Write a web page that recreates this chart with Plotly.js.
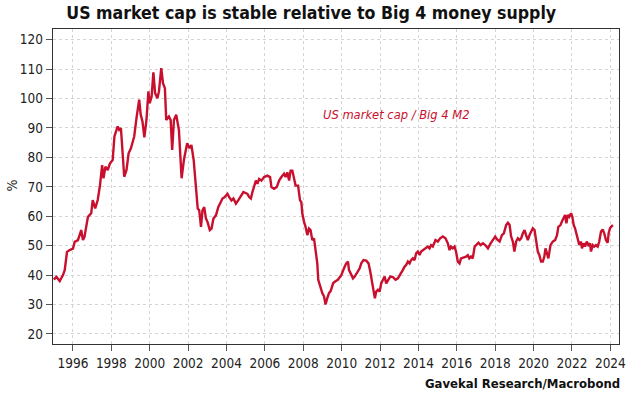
<!DOCTYPE html>
<html>
<head>
<meta charset="utf-8">
<script src="https://cdn.plot.ly/plotly-3.0.1.min.js"></script>
<style>html,body{margin:0;padding:0;background:#fff;}#chart{width:630px;height:397px;}</style>
</head>
<body>
<div id="chart"></div>
<script>
// Decimal year of each observation
const years = [
1995.0,1995.14,1995.31,1995.48,1995.57,1995.69,1995.83,1996.0,1996.09,1996.26,1996.43,1996.52,1996.6,1996.78,1996.95,
1997.03,1997.16,1997.29,1997.41,1997.52,1997.59,1997.69,1997.81,1997.93,1998.07,1998.16,1998.33,1998.41,1998.5,1998.59,
1998.67,1998.79,1998.9,1999.02,1999.19,1999.31,1999.45,1999.53,1999.62,1999.72,1999.83,1999.93,2000.0,2000.1,2000.19,
2000.28,2000.4,2000.48,2000.6,2000.69,2000.79,2000.86,2001.0,2001.09,2001.17,2001.26,2001.38,2001.52,2001.66,2001.78,
2001.95,2002.07,2002.17,2002.29,
2002.41,2002.5,2002.58,2002.67,2002.75,2002.84,2002.93,2003.01,2003.13,2003.22,2003.32,2003.45,2003.57,2003.67,2003.79,
2003.91,2004.05,2004.14,2004.26,2004.36,2004.49,2004.61,2004.75,2004.88,2005.0,2005.09,2005.18,2005.27,2005.35,2005.44,
2005.53,2005.61,2005.7,2005.82,2005.96,2006.13,2006.27,2006.34,2006.48,2006.62,2006.74,2006.86,2007.0,2007.08,2007.17,
2007.26,2007.34,2007.43,2007.52,2007.6,2007.73,2007.83,2007.9,2007.95,2008.04,2008.12,2008.21,2008.3,2008.38,2008.47,
2008.56,2008.64,2008.73,2008.78,2008.87,2008.99,2009.08,2009.16,2009.25,2009.34,2009.42,2009.56,2009.68,2009.8,
2009.98,2010.07,2010.16,2010.24,2010.33,2010.38,2010.5,2010.59,2010.68,2010.8,2010.94,2011.02,2011.14,2011.28,2011.4,
2011.49,2011.56,2011.63,2011.68,2011.73,2011.8,2011.89,2011.98,2012.06,2012.15,2012.24,2012.32,2012.41,2012.53,2012.67,
2012.81,2012.93,2013.05,2013.19,2013.28,2013.36,2013.45,2013.54,2013.62,2013.71,2013.8,2013.88,2013.97,2014.06,2014.14,
2014.23,2014.37,2014.49,2014.58,2014.66,2014.75,2014.89,2015.01,2015.13,2015.27,2015.41,2015.53,2015.62,2015.7,2015.79,
2015.88,2015.96,2016.05,2016.14,2016.22,2016.34,2016.48,2016.57,2016.65,2016.74,2016.83,
2016.93,2017.01,2017.13,2017.24,2017.36,2017.48,2017.62,2017.76,2017.88,2018.0,2018.1,2018.23,2018.35,2018.45,2018.57,
2018.66,2018.75,2018.83,2018.92,2019.0,2019.09,2019.18,2019.27,2019.35,2019.44,2019.53,2019.61,2019.7,2019.79,2019.87,
2019.96,2020.05,2020.13,2020.22,2020.3,2020.39,2020.48,2020.56,2020.62,2020.7,2020.77,2020.88,2021.0,2021.12,2021.22,
2021.29,2021.4,2021.47,2021.57,2021.64,2021.71,2021.78,2021.86,2021.95,2022.02,2022.09,2022.16,2022.23,2022.3,2022.38,
2022.47,2022.52,2022.61,2022.68,2022.77,2022.85,2022.94,2022.99,2023.08,2023.16,2023.25,2023.34,2023.42,2023.51,2023.6,
2023.68,2023.77,2023.86,2023.91,2023.98,2024.08,2024.15
];
// US market cap / Big 4 M2, %
const ratio = [
38.5,39.4,38.0,40.0,41.7,47.9,48.5,49.0,51.3,51.9,55.3,51.9,53.0,59.8,61.0,
65.5,62.7,65.5,70.6,77.4,72.9,76.8,75.7,78.0,79.1,87.1,90.5,89.3,89.9,80.3,
73.4,75.7,81.4,83.1,87.1,93.3,99.6,94.5,92.2,86.8,92.7,102.4,98.4,100.7,108.9,
101.8,100.1,102.4,110.3,105.2,103.5,92.7,93.9,92.7,82.5,92.7,94.5,89.3,72.9,79.1,
84.8,83.1,84.2,79.1,
71.0,62.6,62.0,56.4,62.0,63.1,59.2,58.1,55.3,55.8,59.2,60.3,63.1,64.3,66.0,
66.5,67.6,66.5,65.4,66.0,64.3,65.4,67.1,68.2,67.9,67.6,66.5,66.0,68.2,69.9,
72.1,71.0,72.7,72.1,73.3,73.8,73.3,69.9,69.3,69.9,72.1,73.3,74.4,73.3,74.9,
72.1,75.5,75.5,72.1,70.4,70.4,65.4,64.8,60.9,58.1,56.4,53.6,55.8,55.3,51.9,
52.5,49.1,44.0,38.4,36.2,33.9,32.8,30.0,32.2,33.9,34.5,37.3,37.9,38.4,
40.0,41.8,42.9,44.0,44.6,41.8,40.1,38.9,39.5,40.6,42.3,44.0,45.1,44.9,44.0,
41.2,38.4,36.1,33.3,32.1,34.4,35.0,34.4,37.2,38.4,39.5,37.2,38.4,39.5,39.3,
38.4,38.9,40.1,41.8,42.9,43.4,44.6,44.0,45.1,45.7,45.1,47.4,48.0,46.8,48.0,
48.5,49.1,49.7,49.1,50.2,49.7,51.9,51.4,52.5,53.1,52.5,50.8,48.5,49.7,49.1,
49.7,48.0,44.6,44.0,45.7,46.0,46.3,46.8,45.7,46.3,45.7,
49.7,50.2,51.0,50.2,50.8,50.2,49.1,50.8,51.9,53.1,52.1,51.4,53.6,54.2,57.0,
57.8,57.0,53.1,51.4,48.0,51.4,52.5,51.9,52.5,54.2,55.3,53.6,51.9,53.6,54.7,
55.9,55.3,52.5,48.0,46.8,44.6,44.6,46.3,49.1,47.4,45.7,50.2,51.4,51.9,53.6,
56.4,57.0,58.1,59.3,60.4,57.6,60.4,59.8,61.0,59.8,57.0,55.9,54.2,52.5,50.2,
51.4,49.1,50.8,49.7,51.4,50.2,50.8,48.0,50.2,49.7,50.2,49.7,51.4,54.7,55.5,
54.2,51.9,51.0,54.2,55.9,56.7,56.8
];
const xTicks = [1996,1998,2000,2002,2004,2006,2008,2010,2012,2014,2016,2018,2020,2022,2024];
const yTicks = [20,30,40,50,60,70,80,90,100,110,120];
const seriesName = 'US market cap / Big 4 M2';

const FONT = '"Liberation Sans Narrow", "DejaVu Sans Condensed", "Arial Narrow", sans-serif';
const RED = '#c8102e';

const trace = {
  x: years, y: ratio, type: 'scatter', mode: 'lines',
  line: {color: RED, width: 2.4},
  hoverinfo: 'skip', showlegend: false
};

const axisCommon = {
  showline: true, mirror: true, linecolor: '#333', linewidth: 1.3,
  ticks: 'outside', ticklen: 6, tickwidth: 1, tickcolor: '#555',
  showgrid: true, gridcolor: '#d4d4d4', griddash: 'dot', gridwidth: 1,
  zeroline: false,
  tickfont: {family: FONT, size: 13.5, color: '#222'}
};

const layout = {
  width: 630, height: 397,
  margin: {l: 53, r: 11, t: 29, b: 53},
  paper_bgcolor: '#fff', plot_bgcolor: '#fff',
  title: {
    text: '<b>US market cap is stable relative to Big 4 money supply</b>',
    font: {family: FONT, size: 17.6, color: '#111'},
    x: 0.494, xref: 'container', xanchor: 'center',
    y: 1 - 13/397, yref: 'container', yanchor: 'middle'
  },
  xaxis: Object.assign({}, axisCommon, {
    range: [1994.96, 2024.45],
    tickvals: xTicks, ticktext: xTicks.map(String)
  }),
  yaxis: Object.assign({}, axisCommon, {
    range: [16.6, 123.6],
    tickvals: yTicks, ticktext: yTicks.map(String)
  }),
  annotations: [
    {text: '<i>' + seriesName + '</i>', xref: 'x', yref: 'y', x: 2012.86, y: 94.5,
     showarrow: false, font: {family: FONT, size: 12.8, color: RED}, xanchor: 'center', yanchor: 'middle'},
    {text: '%', xref: 'paper', yref: 'paper', x: -0.073, y: 0.5025, textangle: -90,
     showarrow: false, font: {family: FONT, size: 14, color: '#222'}, xanchor: 'center', yanchor: 'middle'},
    {text: '<b>Gavekal Research/Macrobond</b>', xref: 'paper', yref: 'paper',
     x: (622 - 53) / 566, y: -(383.5 - 344) / 315, xanchor: 'right', yanchor: 'middle',
     showarrow: false, font: {family: FONT, size: 13, color: '#111'}}
  ]
};

Plotly.newPlot('chart', [trace], layout, {staticPlot: true, displayModeBar: false});
</script>
</body>
</html>
